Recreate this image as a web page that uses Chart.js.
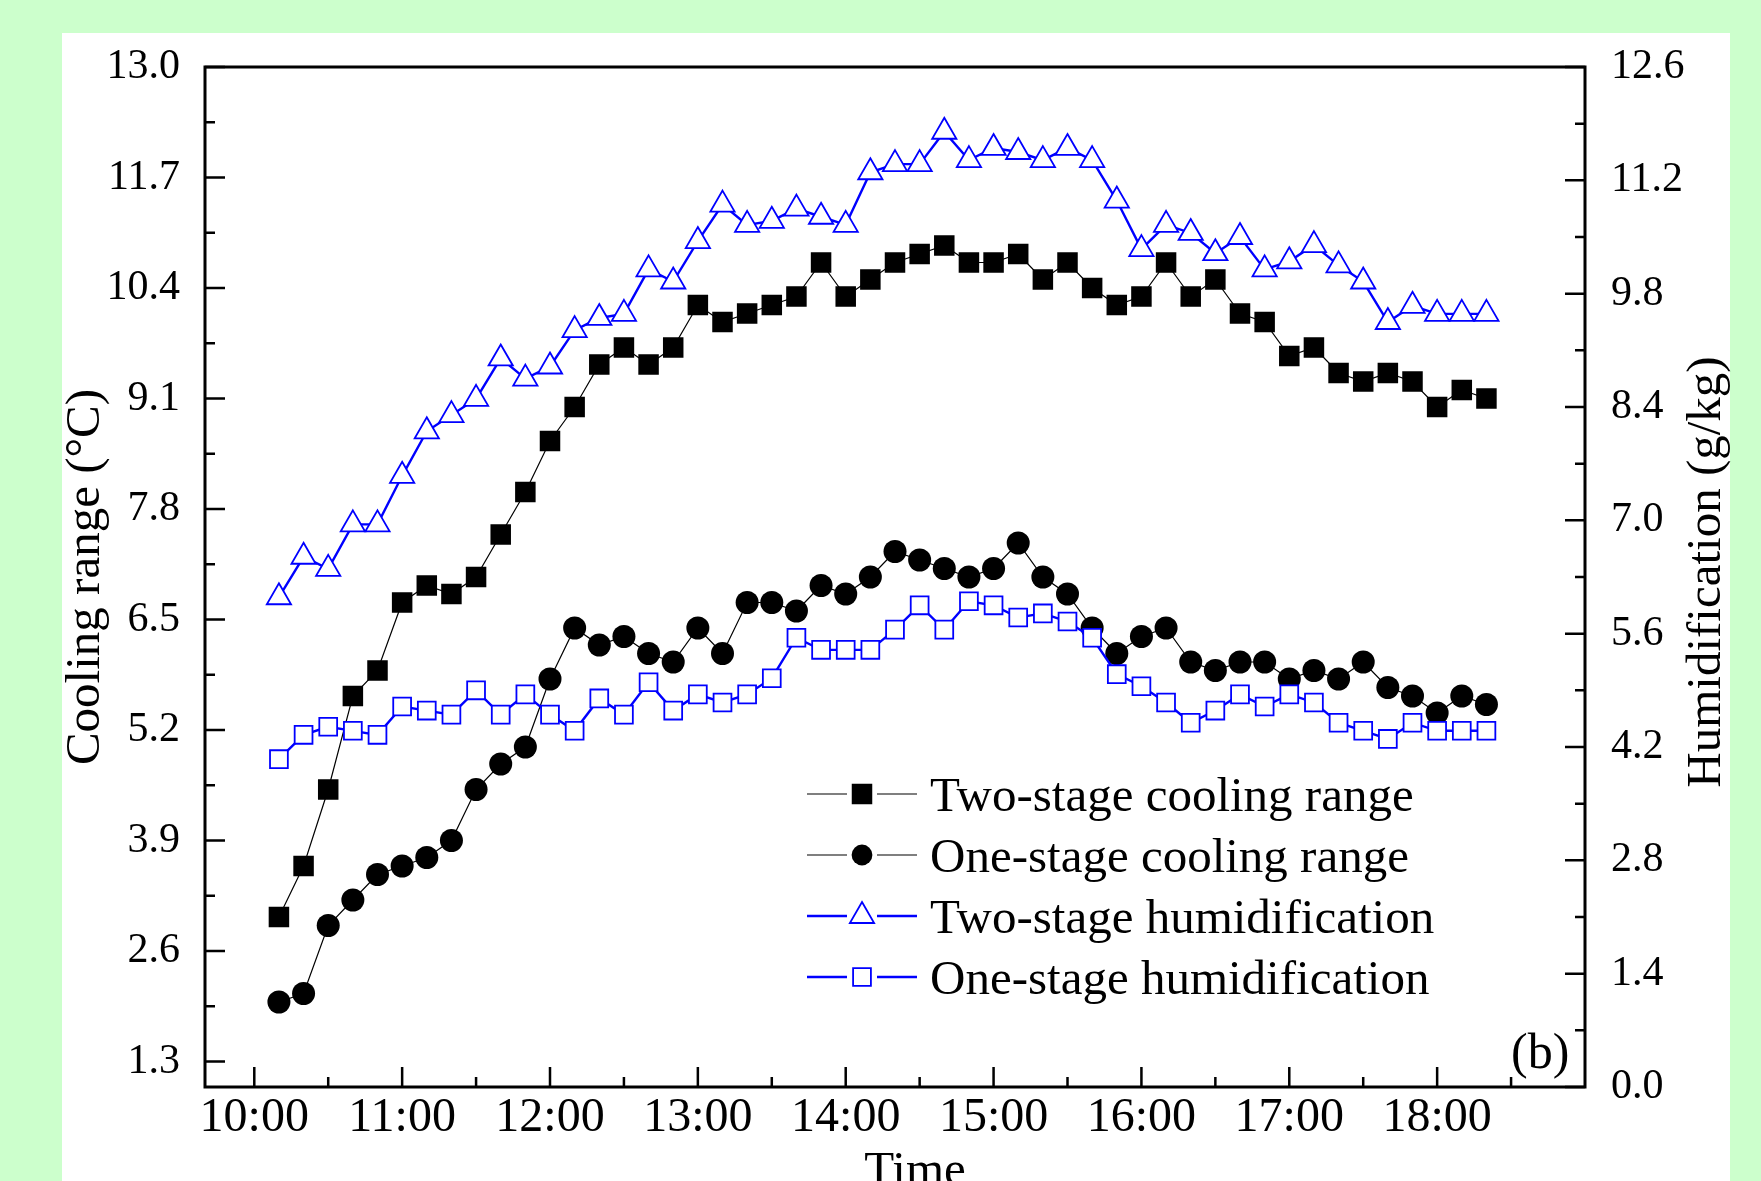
<!DOCTYPE html>
<html lang="en">
  <head>
    <meta charset="UTF-8" />
    <style>
      body { margin: 0; background: #ccffcc; width: 1761px; height: 1181px; overflow: hidden; position: relative; }
      #panel { position: absolute; left: 62px; top: 33px; width: 1668px; height: 1148px; background: #ffffff; }
      #myChart { position: absolute; left: 0; top: 0; }
    </style>
  </head>
  <body>
    <div id="panel"></div>
    <canvas id="myChart" width="1761" height="1181"></canvas>
    <script src="https://cdn.jsdelivr.net/npm/chart.js@4.4.1/dist/chart.umd.min.js"></script>

    <script>
      // measurement times (every 10 min)
      var times = [
        "10:10", "10:20", "10:30", "10:40", "10:50", "11:00", "11:10", "11:20", "11:30", "11:40", "11:50",
        "12:00", "12:10", "12:20", "12:30", "12:40", "12:50",
        "13:00", "13:10", "13:20", "13:30", "13:40", "13:50",
        "14:00", "14:10", "14:20", "14:30", "14:40", "14:50",
        "15:00", "15:10", "15:20", "15:30", "15:40", "15:50",
        "16:00", "16:10", "16:20", "16:30", "16:40", "16:50",
        "17:00", "17:10", "17:20", "17:30", "17:40", "17:50",
        "18:00", "18:10", "18:20"
      ];

      // cooling range (°C), left axis
      var twoStageCooling = [
        3.0, 3.6, 4.5, 5.6, 5.9, 6.7, 6.9, 6.8, 7.0, 7.5, 8.0,
        8.6, 9.0, 9.5, 9.7, 9.5, 9.7,
        10.2, 10.0, 10.1, 10.2, 10.3, 10.7,
        10.3, 10.5, 10.7, 10.8, 10.9, 10.7,
        10.7, 10.8, 10.5, 10.7, 10.4, 10.2,
        10.3, 10.7, 10.3, 10.5, 10.1, 10.0,
        9.6, 9.7, 9.4, 9.3, 9.4, 9.3,
        9.0, 9.2, 9.1
      ];
      var oneStageCooling = [
        2.0, 2.1, 2.9, 3.2, 3.5, 3.6, 3.7, 3.9, 4.5, 4.8, 5.0,
        5.8, 6.4, 6.2, 6.3, 6.1, 6.0,
        6.4, 6.1, 6.7, 6.7, 6.6, 6.9,
        6.8, 7.0, 7.3, 7.2, 7.1, 7.0,
        7.1, 7.4, 7.0, 6.8, 6.4, 6.1,
        6.3, 6.4, 6.0, 5.9, 6.0, 6.0,
        5.8, 5.9, 5.8, 6.0, 5.7, 5.6,
        5.4, 5.6, 5.5
      ];

      // humidification (g/kg), right axis
      var twoStageHumid = [
        6.05, 6.55, 6.4, 6.95, 6.95, 7.55, 8.1, 8.3, 8.5, 9.0, 8.75,
        8.9, 9.35, 9.5, 9.55, 10.1, 9.95,
        10.45, 10.9, 10.65, 10.7, 10.85, 10.75,
        10.65, 11.3, 11.4, 11.4, 11.8, 11.45,
        11.6, 11.55, 11.45, 11.6, 11.45, 10.95,
        10.35, 10.65, 10.55, 10.3, 10.5, 10.1,
        10.2, 10.4, 10.15, 9.95, 9.45, 9.65,
        9.55, 9.55, 9.55
      ];
      var oneStageHumid = [
        4.05, 4.35, 4.45, 4.4, 4.35, 4.7, 4.65, 4.6, 4.9, 4.6, 4.85,
        4.6, 4.4, 4.8, 4.6, 5.0, 4.65,
        4.85, 4.75, 4.85, 5.05, 5.55, 5.4,
        5.4, 5.4, 5.65, 5.95, 5.65, 6.0,
        5.95, 5.8, 5.85, 5.75, 5.55, 5.1,
        4.95, 4.75, 4.5, 4.65, 4.85, 4.7,
        4.85, 4.75, 4.5, 4.4, 4.3, 4.5,
        4.4, 4.4, 4.4
      ];

      // axis ticks
      var timeTicks = ["10:00", "11:00", "12:00", "13:00", "14:00", "15:00", "16:00", "17:00", "18:00"];
      var leftTicks = [1.3, 2.6, 3.9, 5.2, 6.5, 7.8, 9.1, 10.4, 11.7, 13.0];
      var rightTicks = [0.0, 1.4, 2.8, 4.2, 5.6, 7.0, 8.4, 9.8, 11.2, 12.6];

      var seriesNames = [
        "Two-stage cooling range",
        "One-stage cooling range",
        "Two-stage humidification",
        "One-stage humidification"
      ];

      var FONT = "'Liberation Serif', 'Times New Roman', serif";
      var BLUE = "#0000ff";

      function toMin(t) {
        var p = t.split(":");
        return parseInt(p[0], 10) * 60 + parseInt(p[1], 10);
      }
      function pts(vals) {
        return times.map(function (t, i) { return { x: toMin(t), y: vals[i] }; });
      }

      // marker styles, also used by the legend
      var styles = [
        { color: "#000", fill: "#000", pointStyle: "rect", radius: 14.5, border: 0, line: 1.2 },
        { color: "#000", fill: "#000", pointStyle: "circle", radius: 11.5, border: 0, line: 1.2 },
        { color: BLUE, fill: "#fff", pointStyle: "triangle", radius: 14, border: 1.8, line: 2.4 },
        { color: BLUE, fill: "#fff", pointStyle: "rect", radius: 12.6, border: 1.8, line: 2.4 }
      ];

      function ds(i, vals, axis) {
        var s = styles[i];
        return {
          label: seriesNames[i],
          data: pts(vals),
          yAxisID: axis,
          borderColor: s.color,
          borderWidth: s.line,
          pointStyle: s.pointStyle,
          pointRadius: s.radius,
          pointBackgroundColor: s.fill,
          pointBorderColor: s.color,
          pointBorderWidth: s.border,
          tension: 0,
          fill: false
        };
      }

      var decor = {
        id: "decor",
        afterDraw: function (chart) {
          var ctx = chart.ctx, a = chart.chartArea;
          var sx = chart.scales.x, sy = chart.scales.y, sy1 = chart.scales.y1;
          ctx.save();
          ctx.strokeStyle = "#000";
          ctx.lineWidth = 2.5;
          ctx.beginPath();
          // left axis ticks
          leftTicks.forEach(function (v, i) {
            var p = sy.getPixelForValue(v);
            ctx.moveTo(a.left, p); ctx.lineTo(a.left + 20, p);
            if (i < leftTicks.length - 1) {
              var m = sy.getPixelForValue((v + leftTicks[i + 1]) / 2);
              ctx.moveTo(a.left, m); ctx.lineTo(a.left + 10, m);
            }
          });
          // right axis ticks
          rightTicks.forEach(function (v, i) {
            var p = sy1.getPixelForValue(v);
            ctx.moveTo(a.right, p); ctx.lineTo(a.right - 20, p);
            if (i < rightTicks.length - 1) {
              var m = sy1.getPixelForValue((v + rightTicks[i + 1]) / 2);
              ctx.moveTo(a.right, m); ctx.lineTo(a.right - 10, m);
            }
          });
          // time ticks, half hours as minor
          timeTicks.forEach(function (t) {
            var p = sx.getPixelForValue(toMin(t));
            ctx.moveTo(p, a.bottom); ctx.lineTo(p, a.bottom - 20);
            var m = sx.getPixelForValue(toMin(t) + 30);
            ctx.moveTo(m, a.bottom); ctx.lineTo(m, a.bottom - 10);
          });
          ctx.stroke();
          ctx.lineWidth = 3;
          ctx.strokeRect(a.left, a.top, a.right - a.left, a.bottom - a.top);

          // axis titles
          ctx.fillStyle = "#000";
          ctx.textBaseline = "alphabetic";
          ctx.textAlign = "center";
          ctx.font = "49px " + FONT;
          ctx.save();
          ctx.translate(99, 577);
          ctx.rotate(-Math.PI / 2);
          ctx.fillText("Cooling range (\u00b0C)", 0, 0);
          ctx.restore();
          ctx.save();
          ctx.translate(1720, 572);
          ctx.rotate(-Math.PI / 2);
          ctx.fillText("Humidification (g/kg)", 0, 0);
          ctx.restore();
          ctx.fillText("Time", 915, 1185);

          ctx.textAlign = "left";
          ctx.font = "50px " + FONT;
          ctx.fillText("(b)", 1511, 1068);

          // legend
          ctx.font = "49px " + FONT;
          seriesNames.forEach(function (name, i) {
            var s = styles[i];
            var y = 794 + i * 61;
            ctx.strokeStyle = s.color;
            ctx.lineWidth = s.line;
            ctx.beginPath();
            ctx.moveTo(807, y); ctx.lineTo(847, y);
            ctx.moveTo(877, y); ctx.lineTo(917, y);
            ctx.stroke();
            ctx.fillStyle = s.fill;
            ctx.lineWidth = s.border;
            Chart.helpers.drawPoint(ctx, {
              pointStyle: s.pointStyle,
              radius: i === 1 ? 10.4 : s.radius,
              rotation: 0,
              borderWidth: s.border
            }, 862, y);
            ctx.fillStyle = "#000";
            ctx.fillText(name, 930, y + 17);
          });
          ctx.restore();
        }
      };

      var ctx = document.getElementById("myChart").getContext("2d");
      var chart = new Chart(ctx, {
        type: "line",
        data: {
          datasets: [
            ds(3, oneStageHumid, "y1"),
            ds(2, twoStageHumid, "y1"),
            ds(1, oneStageCooling, "y"),
            ds(0, twoStageCooling, "y")
          ]
        },
        options: {
          responsive: false,
          devicePixelRatio: 1,
          animation: false,
          events: [],
          layout: { padding: { top: 67, left: 0, right: 0, bottom: 0 } },
          plugins: {
            legend: { display: false },
            tooltip: { enabled: false }
          },
          scales: {
            x: {
              type: "linear",
              min: toMin("9:40"),
              max: toMin("19:00"),
              grid: { display: false, drawTicks: false },
              border: { display: false },
              afterBuildTicks: function (s) {
                s.ticks = timeTicks.map(function (t) { return { value: toMin(t) }; });
              },
              afterFit: function (s) { s.height = 94; },
              ticks: {
                autoSkip: false,
                maxRotation: 0,
                padding: 3,
                color: "#000",
                font: { family: FONT, size: 48 },
                callback: function (v, i) { return timeTicks[i]; }
              }
            },
            y: {
              position: "left",
              min: 1.0,
              max: 13.0,
              grid: { display: false, drawTicks: false },
              border: { display: false },
              afterBuildTicks: function (s) {
                s.ticks = leftTicks.map(function (v) { return { value: v }; });
              },
              afterFit: function (s) { s.width = 205; },
              ticks: {
                padding: 25,
                color: "#000",
                font: { family: FONT, size: 42 },
                callback: function (v) { return v.toFixed(1); }
              }
            },
            y1: {
              position: "right",
              min: 0,
              max: 12.6,
              grid: { display: false, drawTicks: false },
              border: { display: false },
              afterBuildTicks: function (s) {
                s.ticks = rightTicks.map(function (v) { return { value: v }; });
              },
              afterFit: function (s) { s.width = 176; },
              ticks: {
                padding: 26,
                color: "#000",
                font: { family: FONT, size: 42 },
                callback: function (v) { return v.toFixed(1); }
              }
            }
          }
        },
        plugins: [decor]
      });
    </script>
  </body>
</html>
